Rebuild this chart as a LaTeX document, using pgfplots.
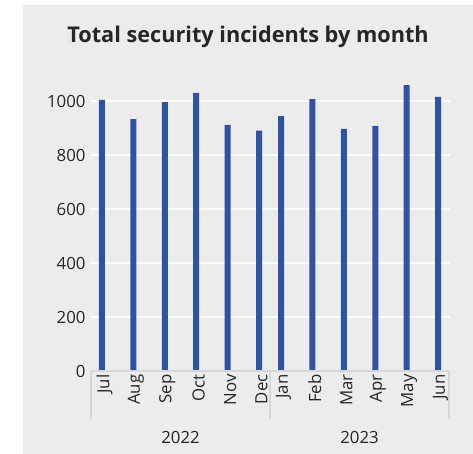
\documentclass[border=0pt]{standalone}
\usepackage{pgfplots}
\pgfplotsset{compat=1.18}
\usepackage{fontspec}
\setmainfont{Open Sans}
\definecolor{bgc}{RGB}{236,236,236}
\definecolor{barc}{RGB}{47,82,162}
\definecolor{txt}{RGB}{38,38,38}
\definecolor{axc}{RGB}{214,214,214}
\begin{document}
\begin{tikzpicture}
\path[use as bounding box, fill=white] (0,0) rectangle (473bp,454bp);
\fill[bgc] (23bp,0) rectangle (473bp,449bp);
\node[anchor=base, text=black!85, font=\fontsize{21.7bp}{25bp}\selectfont\bfseries] at (248bp,411.3bp) {Total security incidents by month};
\begin{axis}[
  at={(91bp,83bp)}, anchor=south west,
  scale only axis, width=359bp, height=310.5bp,
  xmin=-0.35, xmax=11.08, ymin=0, ymax=1150,
  ytick={0,200,400,600,800,1000},
  xtick={0,1,2,3,4,5,5.7,6.7,7.7,8.7,9.7,10.7},
  xticklabels={Jul,Aug,Sep,Oct,Nov,Dec,Jan,Feb,Mar,Apr,May,Jun},
  major tick length=0,
  axis line style={draw=none},
  ymajorgrids, grid style={white, line width=1.5bp},
  /pgf/number format/assume math mode=true,
  /pgf/number format/1000 sep={},
  tick label style={text=txt, font=\fontsize{16.8bp}{19bp}\selectfont},
  xticklabel style={rotate=90, anchor=east, yshift=-2.5bp},
  yticklabel style={xshift=-2bp},
  clip=false,
]
\addplot[ybar, bar width=6bp, fill=barc, draw=none] coordinates {
 (0,1004) (1,933) (2,996) (3,1030) (4,912) (5,890)
 (5.7,944) (6.7,1007) (7.7,897) (8.7,908) (9.7,1059) (10.7,1015)};
\draw[axc, line width=1.5bp] (axis cs:-0.35,0) -- (axis cs:11.05,0);
\draw[axc, line width=1.5bp] (axis cs:-0.35,0) -- ++(0pt,-48bp);
\draw[axc, line width=1.5bp] (axis cs:5.35,0) -- ++(0pt,-48bp);
\draw[axc, line width=1.5bp] (axis cs:11.05,0) -- ++(0pt,-48bp);
\node[text=txt, font=\fontsize{16.8bp}{19bp}\selectfont] at (axis cs:2.5,0) [yshift=-66bp] {2022};
\node[text=txt, font=\fontsize{16.8bp}{19bp}\selectfont] at (axis cs:8.2,0) [yshift=-66bp] {2023};
\end{axis}
\end{tikzpicture}
\end{document}
